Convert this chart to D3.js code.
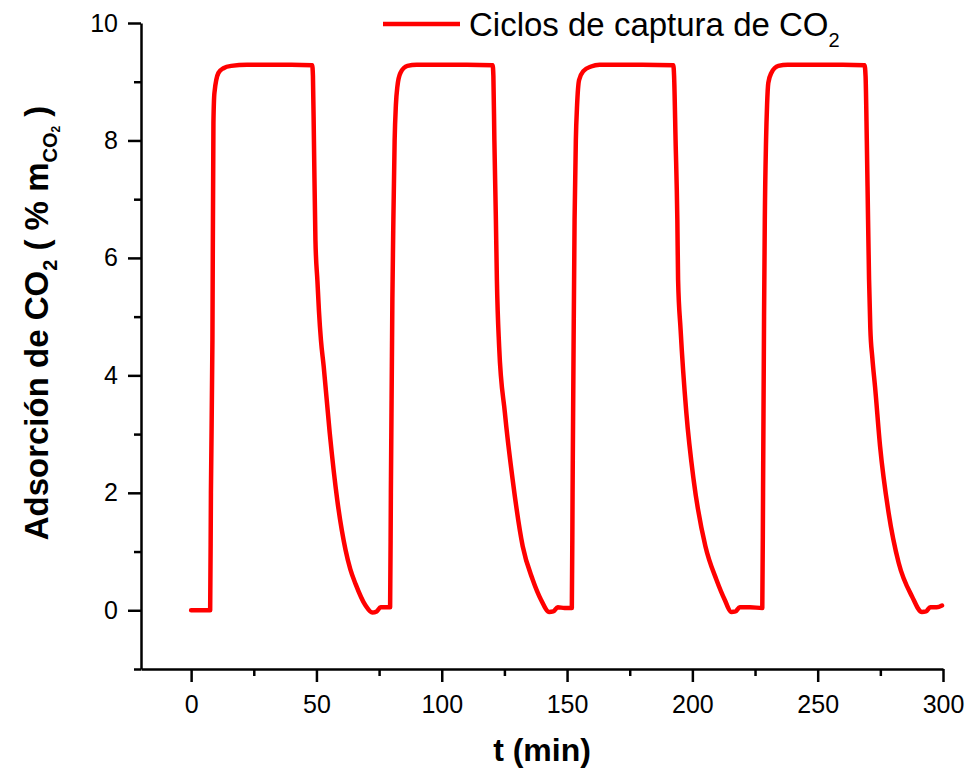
<!DOCTYPE html>
<html>
<head>
<meta charset="utf-8">
<script src="https://cdn.jsdelivr.net/npm/d3@7"></script>
<style>
  body { margin: 0; background: #fff; }
  text { font-family: "Liberation Sans", Arial, sans-serif; fill: #000; }
</style>
</head>
<body>
<div id="chart"></div>
<script>
// time (min) and CO2 uptake (% m CO2), one pair per cycle
const tiempo1 = [0, 3, 7.6, 7.9, 8.5, 8.9, 9.3, 10.9, 12.9, 16, 22.3, 30, 40, 48.3, 48.6, 49.0, 49.6, 50.4, 51.0, 51.8, 52.9, 55.3, 58.3, 61.6, 63.5, 65.6, 69.6, 72.3, 74.0, 75.6, 77.5];
const adsorcion1 = [0, 0, 0, 2.0, 4.6, 8.3, 8.81, 9.15, 9.23, 9.27, 9.29, 9.29, 9.29, 9.28, 9.1, 8.0, 6.3, 5.6, 5.1, 4.6, 4.15, 3.02, 1.88, 1.03, 0.7, 0.45, 0.08, -0.04, -0.02, 0.05, 0.05];

const tiempo2 = [79.4, 79.7, 80.3, 80.7, 81.2, 81.7, 82.3, 83.5, 86.3, 90, 100, 110, 120.3, 120.6, 121.0, 121.6, 122.0, 122.9, 125.2, 128.3, 132.3, 136.3, 139.6, 142.9, 144.5, 146.3, 149];
const adsorcion2 = [0.05, 2.0, 5.3, 6.65, 8.0, 8.6, 8.92, 9.15, 9.27, 9.29, 9.29, 9.29, 9.28, 9.1, 8.0, 6.65, 5.63, 4.49, 3.36, 2.22, 1.09, 0.52, 0.18, -0.03, -0.02, 0.05, 0.04];

const tiempo3 = [151.9, 152.2, 152.6, 153.0, 153.5, 154.0, 154.8, 156.5, 159.6, 163, 170, 180, 192.4, 192.7, 193.3, 194.0, 194.3, 195.3, 197.6, 200.5, 205.2, 209.6, 212.9, 215.6, 217.2, 218.9, 223];
const adsorcion3 = [0.04, 2.0, 4.5, 6.65, 8.0, 8.6, 9.03, 9.18, 9.26, 9.29, 9.29, 9.29, 9.28, 9.1, 8.0, 6.65, 5.63, 4.78, 3.36, 2.22, 1.09, 0.52, 0.18, -0.03, -0.02, 0.05, 0.05];

const tiempo4 = [227.9, 228.2, 228.6, 228.9, 229.4, 229.8, 230.3, 231.5, 234.3, 238, 250, 260, 268.7, 269.1, 269.6, 270.1, 270.5, 271.0, 271.8, 272.9, 274.9, 278.3, 282.3, 287.6, 291.6, 293.2, 294.9, 297.5, 299.6];
const adsorcion4 = [0.04, 2.0, 5.0, 6.65, 8.0, 8.6, 8.98, 9.15, 9.27, 9.29, 9.29, 9.29, 9.28, 9.1, 8.0, 6.65, 5.63, 4.8, 4.3, 3.8, 2.79, 1.66, 0.81, 0.24, -0.03, -0.02, 0.05, 0.05, 0.08];

const xTicks = [0, 50, 100, 150, 200, 250, 300];
const xMinor = [25, 75, 125, 175, 225, 275];
const yTicks = [0, 2, 4, 6, 8, 10];
const yMinor = [-1, 1, 3, 5, 7, 9];

const serieNombre = "Ciclos de captura de CO";

const width = 965, height = 771;

const tiempo = [].concat(tiempo1, tiempo2, tiempo3, tiempo4);
const adsorcion = [].concat(adsorcion1, adsorcion2, adsorcion3, adsorcion4);
const data = tiempo.map((t, i) => ({t: t, v: adsorcion[i]}));

const svg = d3.select("#chart")
    .append("svg")
    .attr("width", width)
    .attr("height", height);

const x = d3.scaleLinear().domain([-20, 300]).range([141, 943]);
const y = d3.scaleLinear().domain([-1, 10]).range([669, 23]);

// X axis (major + minor ticks)
svg.append("g")
    .attr("transform", `translate(0,${y(-1)})`)
    .call(d3.axisBottom(x).tickValues(xTicks).tickSize(13).tickSizeOuter(0).tickPadding(13));
svg.append("g")
    .attr("transform", `translate(0,${y(-1)})`)
    .call(d3.axisBottom(x).tickValues(xMinor).tickSize(7).tickSizeOuter(0).tickFormat(""))
    .select(".domain").remove();

// Y axis
svg.append("g")
    .attr("transform", `translate(${x(-20)},0)`)
    .call(d3.axisLeft(y).tickValues(yTicks).tickSize(13).tickSizeOuter(0).tickPadding(10));
svg.append("g")
    .attr("transform", `translate(${x(-20)},0)`)
    .call(d3.axisLeft(y).tickValues(yMinor).tickSize(7).tickSizeOuter(0).tickFormat(""))
    .select(".domain").remove();

svg.selectAll(".domain, .tick line")
    .attr("stroke", "#000")
    .attr("stroke-width", 2.5);
svg.selectAll(".tick text")
    .style("font-size", "25px")
    .attr("fill", "#000");

// Curve
svg.append("path")
    .datum(data)
    .attr("fill", "none")
    .attr("stroke", "#ff0000")
    .attr("stroke-width", 4.5)
    .attr("stroke-linejoin", "round")
    .attr("stroke-linecap", "round")
    .attr("d", d3.line()
        .x(d => x(d.t))
        .y(d => y(d.v))
        .curve(d3.curveMonotoneX));

// Legend
svg.append("line")
    .attr("x1", 383).attr("x2", 460)
    .attr("y1", 24).attr("y2", 24)
    .attr("stroke", "#ff0000")
    .attr("stroke-width", 4.5);

const leg = svg.append("text")
    .attr("x", 469)
    .attr("y", 36)
    .style("font-size", "33px");
leg.append("tspan").text(serieNombre);
leg.append("tspan").attr("dy", 11).style("font-size", "20px").text("2");

// X title
svg.append("text")
    .attr("x", (x(-20) + x(300)) / 2)
    .attr("y", 761)
    .attr("text-anchor", "middle")
    .style("font-size", "32px")
    .style("font-weight", "bold")
    .text("t (min)");

// Y title
const yt = svg.append("text")
    .attr("transform", "translate(48,323) rotate(-90)")
    .attr("text-anchor", "middle")
    .style("font-size", "33px")
    .style("font-weight", "bold");
yt.append("tspan").text("Adsorción de CO");
yt.append("tspan").attr("dy", 9).style("font-size", "20px").text("2");
yt.append("tspan").attr("dy", -9).text(" ( % m");
yt.append("tspan").attr("dy", 9).style("font-size", "20px").text("CO");
yt.append("tspan").attr("dy", 3).style("font-size", "12px").text("2");
yt.append("tspan").attr("dy", -12).text(" )");
</script>
</body>
</html>
